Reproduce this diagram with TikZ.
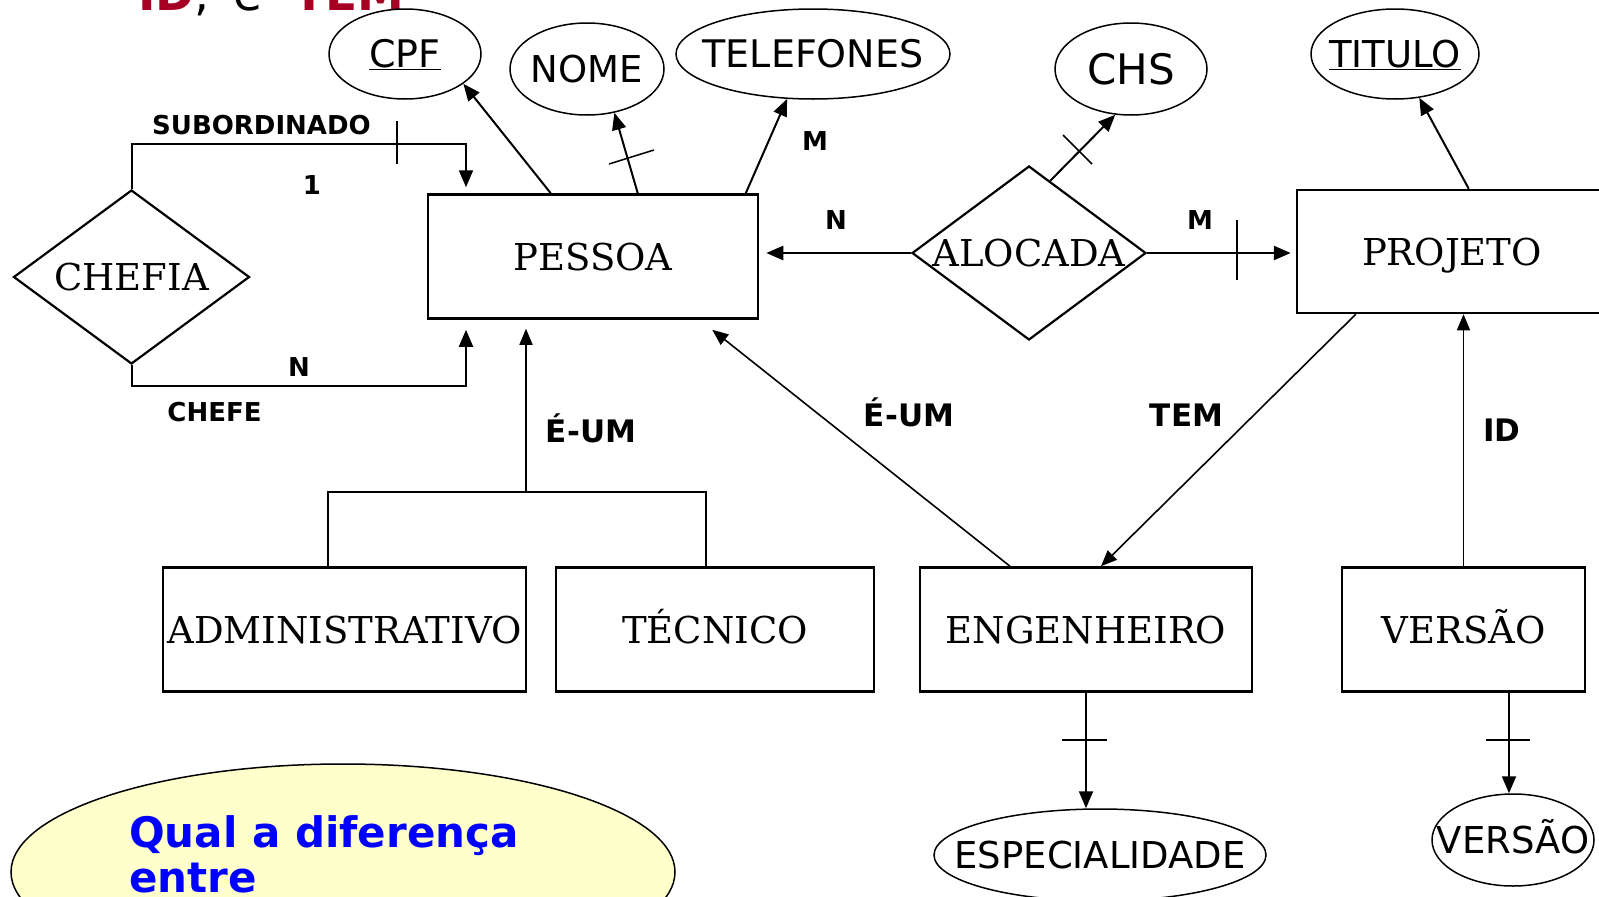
\documentclass[tikz,border=0pt]{standalone}
\usepackage{fontspec}
\setmainfont{DejaVu Serif}
\setsansfont{DejaVu Sans}
\usetikzlibrary{shapes.geometric,arrows.meta,calc}
\definecolor{titred}{RGB}{165,0,36}
\definecolor{qblue}{RGB}{0,0,255}
\definecolor{qfill}{RGB}{255,255,204}
\newcommand{\zw}[1]{\makebox[0pt]{#1}}
\begin{document}
\begin{tikzpicture}[x=1pt,y=-1pt,
 entity/.style={draw, line width=2.5pt, rectangle, minimum height=124pt, inner sep=0pt, text height=27pt, text depth=0pt, font=\fontsize{37}{44}\selectfont},
 rel/.style={draw, line width=2.2pt, diamond, aspect=1.345, minimum height=174pt, inner sep=0pt, text height=27pt, text depth=0pt, font=\fontsize{37}{44}\selectfont},
 attr/.style={draw, line width=1.5pt, ellipse, inner sep=0pt, text height=27pt, text depth=0pt, font=\sffamily\fontsize{38}{44}\selectfont},
 lbl/.style={inner sep=0pt, text height=19pt, text depth=0pt, font=\sffamily\bfseries\fontsize{26}{30}\selectfont},
 biglbl/.style={inner sep=0pt, text height=22pt, text depth=0pt, font=\sffamily\bfseries\fontsize{31}{36}\selectfont},
 conn/.style={line width=2pt, -{Triangle[length=17pt,width=14pt]}},
 thinconn/.style={line width=1.6pt, -{Triangle[length=16pt,width=13pt]}},
 tick/.style={line width=1.5pt},
]
\useasboundingbox (0,0) rectangle (1599,897);
\clip (0,0) rectangle (1599,897);

% title (cut off at the top)
\node[anchor=base west, inner sep=0pt, font=\sffamily\fontsize{47}{50}\selectfont] (title) at (138,10)
  {\textcolor{titred}{\bfseries ID},\hspace{24pt}e\hspace{31pt}\textcolor{titred}{\bfseries TEM}};

% entities
\node[entity, minimum width=330pt] (pessoa) at (593,256.5) {PESSOA};
\node[entity, minimum width=363pt] (admin) at (344.5,629.5) {ADMINISTRATIVO};
\node[entity, minimum width=318pt] (tecnico) at (715,629.5) {TÉCNICO};
\node[entity, minimum width=332pt] (eng) at (1086,629.5) {ENGENHEIRO};
\node[entity, minimum width=243pt] (versao) at (1463.5,629.5) {VERSÃO};
\node[entity, minimum width=310pt, minimum height=123pt] (projeto) at (1452,251.5) {PROJETO};

% relationships
\node[rel, minimum width=236pt] (chefia) at (131.5,277) {CHEFIA};
\node[rel, minimum width=234pt] (alocada) at (1029,253) {ALOCADA};

% attributes
\node[attr, minimum width=152pt, minimum height=90pt] (cpf) at (405,54) {\zw{\underline{CPF}}};
\node[attr, minimum width=154pt, minimum height=92pt, font=\sffamily\fontsize{37}{44}\selectfont] (nome) at (587,69) {\zw{NOME}};
\node[attr, minimum width=274pt, minimum height=90pt] (tel) at (813,54) {\zw{TELEFONES}};
\node[attr, minimum width=152pt, minimum height=92pt, font=\sffamily\fontsize{42}{48}\selectfont, text height=31pt] (chs) at (1131,69) {\zw{CHS}};
\node[attr, minimum width=168pt, minimum height=90pt, font=\sffamily\fontsize{37}{44}\selectfont] (titulo) at (1395,54) {\zw{\underline{TITULO}}};
\node[attr, minimum width=332pt, minimum height=92pt, font=\sffamily\fontsize{37}{42}\selectfont, text height=27pt] (esp) at (1100,855) {\zw{ESPECIALIDADE}};
\node[attr, minimum width=162pt, minimum height=92pt, font=\sffamily\fontsize{37}{42}\selectfont, text height=27pt] (versaoat) at (1513,840) {\zw{VERSÃO}};

% question balloon
\node[draw, line width=1.5pt, fill=qfill, ellipse, minimum width=664pt, minimum height=216pt, inner sep=0pt] (q) at (343,872) {};
\node[anchor=base west, align=left, inner sep=0pt, text=qblue, font=\sffamily\bfseries\fontsize{42}{45}\selectfont] (qt) at (129,892) {Qual a diferença\\entre};

% CHEFIA connectors
\coordinate (subT) at (466,144);
\coordinate (cheB) at (466,386);
\draw[conn, shorten >=6pt] (chefia.north) |- (subT) -- (subT |- pessoa.north);
\draw[conn, shorten >=10pt] (chefia.south) |- (cheB) -- (cheB |- pessoa.south);

% ALOCADA connectors
\draw[conn, line width=2.5pt, shorten >=7pt] (alocada.west) -- (alocada.west -| pessoa.east);
\draw[conn, line width=2.5pt, shorten >=5pt] (alocada.east) -- (alocada.east -| projeto.west);
\draw[conn] ($(alocada.north)!0.18!(alocada.east)$) -- (chs.-109);

% attribute connectors
\draw[conn] ([xshift=124pt]pessoa.north west) -- (cpf.-27);
\draw[conn] ([xshift=211pt]pessoa.north west) -- (nome.-58);
\draw[conn] ([xshift=319pt]pessoa.north west) -- (tel.-120);
\draw[conn] ([xshift=173pt]projeto.north west) -- (titulo.-61);

% is-a
\coordinate (isaJ) at (526,492);
\draw[line width=1.6pt] ([xshift=166pt]admin.north west) |- (isaJ) -| ([xshift=151pt]tecnico.north west);
\draw[thinconn, shorten >=9pt] (isaJ) -- (isaJ |- pessoa.south);
\draw[thinconn] ([xshift=-76pt]eng.north) -- ([xshift=-47pt,yshift=-10pt]pessoa.south east);

% TEM and ID
\draw[thinconn] ([xshift=60pt]projeto.south west) -- ([xshift=15pt]eng.north);
\draw[thinconn] (versao.north) -- (versao.north |- projeto.south);

% multivalued attributes
\coordinate (vd) at ([xshift=45.5pt]versao.south);
\draw[conn] (eng.south) -- (eng.south |- esp.north);
\draw[conn] (vd) -- (vd |- versaoat.north);

% ticks
\draw[tick] (397,121) -- (397,164);
\draw[tick] (609,164) -- (654,150);
\draw[tick] (1063,135) -- (1092,164);
\draw[tick] (1237,220) -- (1237,280);
\draw[tick] (1062,740) -- (1107,740);
\draw[tick] (1486,740) -- (1530,740);

% labels
\node[lbl] (lsub) at (261.5,124.5) {SUBORDINADO};
\node[lbl] (l1) at (312,184.5) {1};
\node[lbl] (lnc) at (299,367) {N};
\node[lbl] (lchefe) at (214.5,412) {CHEFE};
\node[lbl] (lm1) at (815,141) {M};
\node[lbl] (ln2) at (836,219.5) {N};
\node[lbl] (lm2) at (1200,220) {M};
\node[biglbl] (lisa1) at (591,431) {É-UM};
\node[biglbl] (lisa2) at (909,415) {É-UM};
\node[biglbl] (ltem) at (1186.5,415) {TEM};
\node[biglbl] (lid) at (1502,430) {ID};
\end{tikzpicture}
\end{document}
